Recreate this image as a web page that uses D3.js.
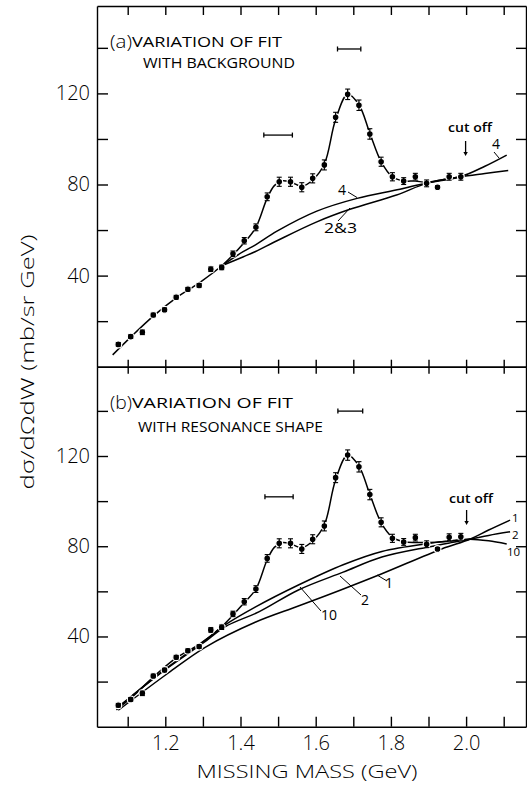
<!DOCTYPE html>
<html><head><meta charset="utf-8">
<script src="https://cdn.jsdelivr.net/npm/d3@7"></script>
<style>
body{margin:0;background:#fff}
svg{display:block;color:#000}
text{font-family:"Open Sans","DejaVu Sans",sans-serif;fill:#000}
</style>
</head><body>
<svg id="c" width="527" height="785"></svg>
<script>
// ---------------- data ----------------
const mass = [1.075,1.108,1.139,1.168,1.198,1.229,1.26,1.29,1.321,1.35,1.38,1.41,1.441,1.471,1.503,1.533,1.563,1.592,1.623,1.653,1.685,1.715,1.744,1.774,1.804,1.834,1.865,1.895,1.924,1.955,1.986];
const sigmaA = [9.8,13.2,15.1,22.7,25.0,30.5,34.0,35.7,42.8,43.6,49.6,55.3,61.2,74.6,81.2,81.2,78.8,82.7,88.6,109.5,119.6,114.8,102.2,90.0,83.4,81.5,83.4,80.5,78.8,83.4,83.4];
const sigmaB = [9.5,12.1,14.8,22.5,25.1,30.8,33.7,35.5,42.9,44.1,50.0,55.4,61.0,74.6,81.3,81.3,78.8,83.1,89.0,110.4,120.4,115.2,102.9,90.6,83.5,81.9,83.8,80.9,78.8,84.0,84.2];
const errs = [0.8,0.8,1.0,0.8,0.8,0.8,0.8,0.8,1.0,1.0,1.2,1.4,1.5,1.7,2.0,2.0,2.0,2.0,2.2,2.2,2.3,2.3,2.3,2.0,1.8,1.5,1.5,1.5,0.6,1.5,1.5];

// fitted curves [mass, value]
const fitA = [[1.06,5.2],[1.108,13],[1.168,22.2],[1.229,30.2],[1.29,36.8],[1.35,44.3],[1.41,54.5],[1.441,61.2],[1.471,74],[1.49,79.5],[1.51,81.6],[1.535,81],[1.563,79.2],[1.592,82],[1.623,89],[1.653,108.5],[1.685,119.6],[1.715,115],[1.744,102.5],[1.774,90],[1.804,83.3],[1.834,81.6],[1.865,81.5],[1.895,81],[1.94,82.2],[1.985,83.4]];
const bgA4 = [[1.35,44.3],[1.407,50.5],[1.44,53.5],[1.497,59.5],[1.603,68.3],[1.71,73.9],[1.824,77.9],[1.895,80.7],[1.985,83.4],[2.05,88],[2.108,92.9]];
const bgA23 = [[1.35,44.3],[1.408,48.3],[1.44,50.6],[1.497,55.3],[1.603,63.6],[1.691,69.1],[1.815,75.4],[1.895,80.5],[1.985,83.4],[2.05,84.8],[2.112,86.1]];

const fitB = [[1.07,7.5],[1.108,12.6],[1.168,22],[1.229,30.5],[1.29,36.5],[1.35,44.3],[1.41,55],[1.441,61],[1.471,74],[1.49,79.5],[1.51,81.6],[1.535,81],[1.563,79.3],[1.592,82.3],[1.623,89.5],[1.653,109.5],[1.685,120.4],[1.715,115.5],[1.744,103],[1.774,90.5],[1.804,84],[1.834,82],[1.87,81.7],[1.92,81.8],[1.96,82.3],[2.01,83.1]];
const bgB10 = [[1.07,8],[1.2,25.5],[1.3,37.5],[1.359,45.1],[1.439,53],[1.554,62.8],[1.673,71.8],[1.776,77.7],[1.904,81.3],[1.96,82.4],[2.01,83.1],[2.06,82.4],[2.108,81]];
const bgB2 = [[1.07,8],[1.2,25.3],[1.3,37],[1.359,44.3],[1.45,51],[1.554,60.6],[1.673,68.5],[1.776,75.2],[1.904,79.8],[1.96,81.6],[2.01,83.1],[2.06,84.8],[2.117,86.4]];
const bgB1 = [[1.075,7.3],[1.208,23.8],[1.306,35.2],[1.439,46.3],[1.554,53.5],[1.665,60.5],[1.776,67.8],[1.935,78.8],[2.01,83.1],[2.06,87.2],[2.117,91.6]];

// resolution bars [from, to, level]
const resA = [[1.658,1.720,139.5],[1.462,1.538,101.7]];
const resB = [[1.659,1.725,139.9],[1.465,1.540,101.9]];

const xTicks = [1.1,1.2,1.3,1.4,1.5,1.6,1.7,1.8,1.9,2.0,2.1];
const xLabels = [1.2,1.4,1.6,1.8,2.0];
const yTicks = [20,40,60,80,100,120,140];
const yLabels = [40,80,120];
const cutoff = 2.0;

// ---------------- layout ----------------
const svg = d3.select("#c");
const L = 97, R = 526;
const x = d3.scaleLinear().domain([1.2,2.0]).range([165.3,466.1]);
x.domain([x.invert(L), x.invert(R)]).range([L,R]);

const yA = d3.scaleLinear().domain([0,120]).range([366.7,93.4]);
yA.domain([0, yA.invert(6)]).range([366.7,6]);
const yB = d3.scaleLinear().domain([0,120]).range([726.7,456]);
yB.domain([0, yB.invert(366.7)]).range([726.7,366.7]);

const tickFont = 20;
const INK = "#000";

function yAxes(y){
  const gl = svg.append("g").attr("transform",`translate(${L},0)`)
    .call(d3.axisLeft(y).tickValues(yTicks).tickSize(-11).tickSizeOuter(0).tickPadding(7)
      .tickFormat(d => yLabels.includes(d) ? d : ""));
  gl.selectAll("text").attr("fill",INK).style("font-size",tickFont+"px").style("font-weight",300);
  const gr = svg.append("g").attr("transform",`translate(${R},0)`)
    .call(d3.axisRight(y).tickValues(yTicks).tickSize(-10).tickSizeOuter(0).tickFormat(""));
  [gl,gr].forEach(g=>{g.selectAll("path,line").attr("stroke",INK).attr("stroke-width",1.4);});
}
yAxes(yA); yAxes(yB);

function xAxis(axis, ty, size, fmt){
  const g = svg.append("g").attr("transform",`translate(0,${ty})`)
    .call(axis(x).tickValues(xTicks).tickSize(size).tickSizeOuter(0).tickPadding(9).tickFormat(fmt));
  g.selectAll("path,line").attr("stroke",INK).attr("stroke-width",1.4);
  g.selectAll("text").attr("fill",INK).style("font-size",tickFont+"px").style("font-weight",300);
  return g;
}
xAxis(d3.axisTop, 6, -9, "");
xAxis(d3.axisTop, 366.7, 7, "");
xAxis(d3.axisBottom, 366.7, 7, "");
xAxis(d3.axisBottom, 726.7, -10, d => xLabels.some(v=>Math.abs(v-d)<1e-6) ? d3.format(".1f")(d) : "");

// ---------------- panels ----------------
function panel(y, vals, fit, bgs, res){
  const line = d3.line().x(d=>x(d[0])).y(d=>y(d[1])).curve(d3.curveCatmullRom.alpha(0.5));
  const g = svg.append("g");
  bgs.concat([fit]).forEach(c=>{
    g.append("path").attr("d",line(c)).attr("fill","none").attr("stroke",INK).attr("stroke-width",1.5);
  });
  // points
  g.selectAll("circle.p").data(mass).join("circle")
    .attr("cx",d=>x(d)).attr("cy",(d,i)=>y(vals[i])).attr("r",3.4)
    .attr("fill",INK).attr("stroke","#fff").attr("stroke-width",1.2);
  // error bars
  mass.forEach((m,i)=>{
    const cx = x(m), y0 = y(vals[i]-errs[i]), y1 = y(vals[i]+errs[i]);
    g.append("line").attr("x1",cx).attr("x2",cx).attr("y1",y0).attr("y2",y1).attr("stroke",INK).attr("stroke-width",1.2);
    [y0,y1].forEach(yy=>g.append("line").attr("x1",cx-2.5).attr("x2",cx+2.5).attr("y1",yy).attr("y2",yy).attr("stroke",INK).attr("stroke-width",1.1));
  });
  // resolution bars
  res.forEach(r=>{
    const yy = y(r[2]);
    g.append("line").attr("x1",x(r[0])).attr("x2",x(r[1])).attr("y1",yy).attr("y2",yy).attr("stroke",INK).attr("stroke-width",1.3);
    [r[0],r[1]].forEach(v=>g.append("line").attr("x1",x(v)).attr("x2",x(v)).attr("y1",yy-2.5).attr("y2",yy+2.5).attr("stroke",INK).attr("stroke-width",1.3));
  });
  const cx = x(cutoff)-0.5;
  return {g, cx};
}

function arrow(g, cx, yTop, yBot){
  g.append("line").attr("x1",cx).attr("x2",cx).attr("y1",yTop).attr("y2",yBot-3).attr("stroke",INK).attr("stroke-width",1.3);
  g.append("path").attr("d",`M${cx-2.2},${yBot-4}L${cx+2.2},${yBot-4}L${cx},${yBot}Z`).attr("fill",INK);
}
function lead(g,x1,y1,x2,y2){
  g.append("line").attr("x1",x1).attr("y1",y1).attr("x2",x2).attr("y2",y2).attr("stroke",INK).attr("stroke-width",1);
}
function txt(g,s,xx,yy,size,opts={}){
  const t = g.append("text").attr("x",xx).attr("y",yy).style("font-size",size+"px").text(s);
  if(opts.len) t.attr("textLength",opts.len).attr("lengthAdjust","spacingAndGlyphs");
  if(opts.anchor) t.attr("text-anchor",opts.anchor);
  t.style("font-weight",opts.weight || 400);
  return t;
}

// panel (a)
const pA = panel(yA, sigmaA, fitA, [bgA4, bgA23], resA);
txt(pA.g,"(a)",110,48,18,{len:22,weight:300});
txt(pA.g,"VARIATION OF FIT",132,47,14,{len:150,weight:500});
txt(pA.g,"WITH BACKGROUND",143,68,14,{len:152,weight:500});
txt(pA.g,"cut off",470,132,13,{anchor:"middle",len:44,weight:600});
arrow(pA.g, pA.cx, 141, 156);
txt(pA.g,"4",338,195,14);
lead(pA.g,348,192,357,197.5);
txt(pA.g,"2&3",324,233,14,{len:33});
lead(pA.g,338,221,350,208);
txt(pA.g,"4",492,149,14);
lead(pA.g,494,152,499,158);

// panel (b)
const pB = panel(yB, sigmaB, fitB, [bgB10, bgB2, bgB1], resB);
txt(pB.g,"(b)",110,409,18,{len:22,weight:300});
txt(pB.g,"VARIATION OF FIT",132,408,14,{len:161,weight:500});
txt(pB.g,"WITH RESONANCE SHAPE",138,432,14,{len:185,weight:500});
txt(pB.g,"cut off",471,503,13,{anchor:"middle",len:44,weight:600});
arrow(pB.g, pB.cx+1, 510, 525);
txt(pB.g,"1",385,588,14);
lead(pB.g,377,575,387,581);
txt(pB.g,"2",361,605,14);
lead(pB.g,340,576,361,595);
txt(pB.g,"10",321,620,14);
lead(pB.g,300,587,321,611);
txt(pB.g,"1",512,522,11.5);
txt(pB.g,"2",512,539,11.5);
txt(pB.g,"10",507,556,11.5);

// axis titles
svg.append("text").attr("transform","translate(34,362) rotate(-90)")
  .attr("text-anchor","middle").style("font-size","18px").style("font-weight",300)
  .attr("textLength",255).attr("lengthAdjust","spacingAndGlyphs")
  .text("dσ/dΩdW  (mb/sr GeV)");
svg.append("text").attr("x",307).attr("y",778).attr("text-anchor","middle")
  .style("font-size","19px").style("font-weight",300)
  .attr("textLength",221).attr("lengthAdjust","spacingAndGlyphs")
  .text("MISSING MASS (GeV)");
</script>
</body></html>
